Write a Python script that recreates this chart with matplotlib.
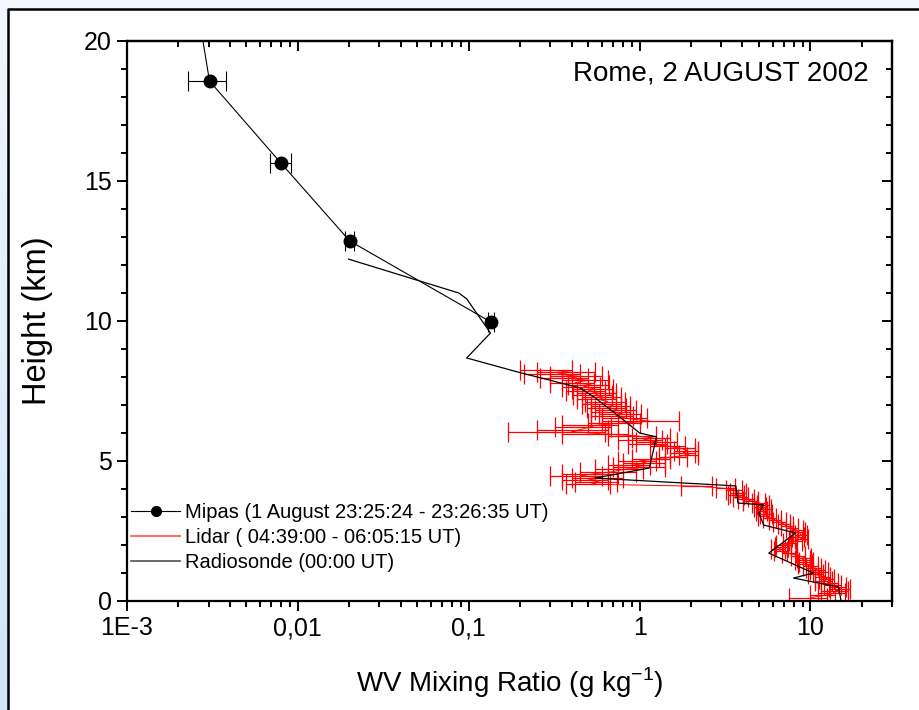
import numpy as np
import matplotlib.pyplot as plt
from matplotlib.colors import LinearSegmentedColormap
from matplotlib.lines import Line2D
from matplotlib.patches import Rectangle
from matplotlib.ticker import LogLocator, FixedLocator, MultipleLocator, NullFormatter

plt.rcParams['font.family'] = ['Liberation Sans', 'DejaVu Sans']

# Mipas profile (g/kg, km) with x errors
mipas_x = [0.00252, 0.00304, 0.00796, 0.0201, 0.135]
mipas_h = [21.6, 18.57, 15.64, 12.86, 9.96]
mipas_err = [0.0006, 0.00078, 0.0011, 0.0013, 0.006]

# Radiosonde profile
sonde_x = [0.0198, 0.0875, 0.0973, 0.134, 0.0973, 0.193, 0.448, 0.540, 0.807,
           1.00, 1.256, 1.14, 0.547, 3.66, 3.76, 5.33, 4.99, 5.33, 8.18, 5.70,
           10.4, 7.96, 10.4, 14.6, 15.1]
sonde_h = [12.21, 11.0, 10.79, 9.57, 8.68, 8.18, 7.61, 7.29, 6.46,
           6.0, 5.86, 4.75, 4.39, 4.11, 3.5, 3.43, 3.14, 2.71, 2.43, 1.71,
           1.0, 0.82, 0.68, 0.5, 0.0]

# Lidar profile (height km, value g/kg, error g/kg)
lidar_h = [8.25, 8.17, 8.10, 8.02, 7.95, 7.88, 7.80, 7.72, 7.65, 7.57, 7.50,
           7.42, 7.35, 7.27, 7.20, 7.12, 7.05, 6.97, 6.90, 6.82, 6.75, 6.67,
           6.60, 6.52, 6.42, 6.35, 6.27, 6.20, 6.12, 6.05, 5.97, 5.90, 5.82,
           5.75, 5.67, 5.60, 5.52, 5.45, 5.37, 5.30, 5.22, 5.15, 5.07, 5.00,
           4.92, 4.85, 4.77, 4.70, 4.62, 4.55, 4.47, 4.40, 4.32, 4.25, 4.17,
           4.10, 4.02, 3.95, 3.87, 3.80, 3.72, 3.65, 3.57, 3.50, 3.42, 3.35,
           3.27, 3.20, 3.12, 3.05, 2.97, 2.90, 2.82, 2.75, 2.67, 2.60, 2.52,
           2.45, 2.37, 2.30, 2.22, 2.15, 2.07, 2.00, 1.92, 1.85, 1.77, 1.70,
           1.62, 1.55, 1.47, 1.40, 1.32, 1.25, 1.17, 1.10, 1.02, 0.95, 0.87,
           0.80, 0.72, 0.65, 0.57, 0.50, 0.42, 0.35, 0.27, 0.20, 0.12]
lidar_x = [0.30, 0.40, 0.33, 0.45, 0.38, 0.50, 0.42, 0.52, 0.47, 0.55, 0.50,
           0.58, 0.55, 0.62, 0.58, 0.65, 0.62, 0.70, 0.66, 0.75, 0.70, 0.80,
           0.72, 0.85, 1.15, 0.75, 0.55, 0.50, 0.45, 0.40, 0.60, 0.95, 1.20,
           1.05, 1.30, 1.15, 1.50, 1.75, 1.90, 1.80, 1.95, 1.60, 1.20, 1.00,
           1.10, 0.90, 1.05, 0.80, 0.70, 0.55, 0.45, 0.60, 0.50, 0.58, 0.52,
           2.20, 3.20, 3.60, 3.80, 3.70, 3.90, 4.20, 4.50, 5.00, 5.30, 5.10,
           5.40, 5.20, 5.50, 5.30, 5.80, 6.20, 6.60, 7.00, 7.30, 7.80, 8.30,
           8.60, 8.80, 8.50, 8.90, 8.20, 7.60, 7.00, 6.80, 6.50, 6.70, 7.50,
           8.50, 9.20, 9.00, 9.50, 9.30, 10.0, 10.5, 11.0, 11.5, 10.8, 11.8,
           12.5, 12.0, 13.0, 13.5, 14.5, 15.0, 14.0, 13.5, 12.0, 10.0]
lidar_err = [0.10, 0.15, 0.12, 0.15, 0.12, 0.15, 0.12, 0.14, 0.12, 0.15, 0.13,
             0.15, 0.14, 0.16, 0.15, 0.17, 0.16, 0.18, 0.17, 0.20, 0.18, 0.22,
             0.20, 0.25, 0.55, 0.25, 0.20, 0.18, 0.20, 0.23, 0.25, 0.30, 0.30,
             0.30, 0.35, 0.30, 0.35, 0.35, 0.30, 0.30, 0.25, 0.30, 0.30, 0.25,
             0.30, 0.25, 0.35, 0.25, 0.25, 0.20, 0.15, 0.20, 0.15, 0.16, 0.15,
             0.45, 0.40, 0.40, 0.40, 0.40, 0.40, 0.45, 0.45, 0.45, 0.45, 0.40,
             0.45, 0.40, 0.45, 0.40, 0.50, 0.50, 0.55, 0.55, 0.60, 0.60, 0.70,
             0.70, 0.70, 0.70, 0.75, 0.70, 0.70, 0.70, 0.60, 0.60, 0.60, 0.70,
             0.80, 0.90, 0.90, 0.90, 0.90, 1.00, 1.10, 1.10, 1.20, 1.10, 1.20,
             1.30, 1.30, 1.40, 1.50, 1.60, 2.00, 2.50, 2.50, 2.00, 2.50]

x_ticks = [1e-3, 1e-2, 1e-1, 1, 10]
x_labels = ['1E-3', '0,01', '0,1', '1', '10']
legend_labels = ['Mipas (1 August 23:25:24 - 23:26:35 UT)',
                 'Lidar ( 04:39:00 - 06:05:15 UT)',
                 'Radiosonde (00:00 UT)']

fig = plt.figure(figsize=(9.2, 7.1), dpi=100, facecolor='#f3f8fd')

# background: pale blue frame, left gradient strip, white panel with black border
bg = fig.add_axes([0, 0, 1, 1], zorder=-10)
bg.set_axis_off()
grad = LinearSegmentedColormap.from_list('b', ['#f1f7fd', '#cfe5f8'])
bg.imshow(np.linspace(0, 1, 100).reshape(-1, 1), cmap=grad, aspect='auto',
          extent=[0, 8.5, 710, 0])
bg.add_patch(Rectangle((8.5, 8.5), 920, 710, facecolor='white', edgecolor='none'))
bg.plot([8.5, 8.5, 920], [710, 8.5, 8.5], color='black', lw=1.8)
bg.set_xlim(0, 920)
bg.set_ylim(710, 0)

ax = fig.add_axes([127 / 920, 109 / 710, 765 / 920, 560 / 710])
ax.set_facecolor('none')

ax.errorbar(lidar_x, lidar_h, xerr=lidar_err, color='red', lw=0.7, elinewidth=0.9,
            capsize=7, capthick=0.9, zorder=2)
ax.plot(sonde_x, sonde_h, color='black', lw=0.9, zorder=3)
ax.errorbar(mipas_x, mipas_h, xerr=mipas_err, color='black', lw=0.8, marker='o', ms=9,
            elinewidth=0.8, capsize=7, capthick=0.8, zorder=4)

ax.set_xscale('log')
ax.set_xlim(1e-3, 30)
ax.set_ylim(0, 20)
ax.xaxis.set_major_locator(FixedLocator(x_ticks))
ax.set_xticklabels(x_labels)
ax.xaxis.set_minor_locator(LogLocator(base=10, subs=np.arange(2, 10)))
ax.xaxis.set_minor_formatter(NullFormatter())
ax.yaxis.set_major_locator(MultipleLocator(5))
ax.yaxis.set_minor_locator(MultipleLocator(1))

for s in ax.spines.values():
    s.set_linewidth(1.6)
ax.tick_params(which='both', labelsize=18, width=1.4)
ax.tick_params(which='major', length=7, pad=4)
ax.tick_params(which='minor', length=4)

# inward ticks on top/right, outward on bottom/left
ax2 = ax.secondary_xaxis('top')
ax2.xaxis.set_major_locator(FixedLocator(x_ticks))
ax2.xaxis.set_minor_locator(LogLocator(base=10, subs=np.arange(2, 10)))
ax2.tick_params(which='both', direction='in', labeltop=False, width=1.4)
ax2.tick_params(which='major', length=7)
ax2.tick_params(which='minor', length=4)
ax2.spines['top'].set_linewidth(1.6)
ax3 = ax.secondary_yaxis('right')
ax3.yaxis.set_major_locator(MultipleLocator(5))
ax3.yaxis.set_minor_locator(MultipleLocator(1))
ax3.tick_params(which='both', direction='in', labelright=False, width=1.4)
ax3.tick_params(which='major', length=7)
ax3.tick_params(which='minor', length=4)
ax3.spines['right'].set_linewidth(1.6)

ax.set_xlabel('WV Mixing Ratio (g kg$^{\\mathregular{-1}}$)', fontsize=20)
ax.set_ylabel('Height (km)', fontsize=23.5)
ax.xaxis.set_label_coords(0.5, -0.115)
ax.yaxis.set_label_coords(-0.097, 0.5)
ax.text(0.97, 0.965, 'Rome, 2 AUGUST 2002', transform=ax.transAxes, ha='right', va='top',
        fontsize=20)

handles = [Line2D([], [], color='black', lw=0.8, marker='o', ms=7),
           Line2D([], [], color='#ff5050', lw=1.2),
           Line2D([], [], color='#505050', lw=1.2)]
ax.legend(handles, legend_labels, loc='lower left', bbox_to_anchor=(-0.01, 0.03),
          frameon=False, fontsize=14.5, handlelength=2.4, handletextpad=0.25,
          labelspacing=0.3, borderaxespad=0.2)

fig.savefig('out.png', dpi=100, facecolor=fig.get_facecolor())
